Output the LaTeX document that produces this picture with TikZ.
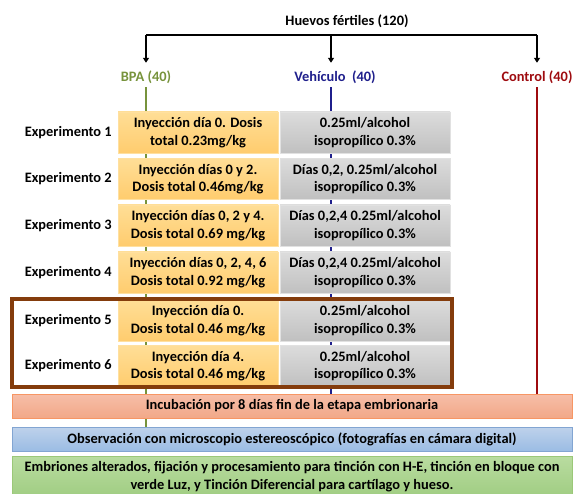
\documentclass[tikz,border=0pt]{standalone}
\usepackage{fontspec}
\setmainfont{Carlito}
\usetikzlibrary{arrows.meta}
\definecolor{bpagreen}{HTML}{77933C}
\definecolor{vehnavy}{HTML}{1F1F8C}
\definecolor{ctlred}{HTML}{9E0B0F}
\definecolor{brownframe}{HTML}{843C0C}
\begin{document}
\begin{tikzpicture}[x=1pt,y=-1pt,
  every node/.style={font=\fontsize{14.4}{17.6}\selectfont\bfseries, align=center, inner sep=0pt},
  lab/.style={minimum height=18pt, text height=10pt, text depth=3pt},
  expl/.style={anchor=east},
  orangebox/.style={draw={rgb,255:red,255;green,224;blue,160}, line width=0.8pt,
     top color={rgb,255:red,255;green,222;blue,150}, bottom color={rgb,255:red,255;green,204;blue,110},
     minimum width=160pt, minimum height=41pt},
  graybox/.style={draw={rgb,255:red,225;green,225;blue,225}, line width=0.8pt,
     top color={rgb,255:red,220;green,220;blue,220}, bottom color={rgb,255:red,192;green,192;blue,192},
     minimum width=170pt, minimum height=41pt},
  barsalmon/.style={draw={rgb,255:red,247;green,150;blue,100}, line width=0.8pt,
     top color={rgb,255:red,246;green,190;blue,168}, bottom color={rgb,255:red,242;green,168;blue,136},
     minimum width=560pt, minimum height=24pt},
  barblue/.style={draw={rgb,255:red,130;green,165;blue,210}, line width=0.8pt,
     top color={rgb,255:red,190;green,210;blue,235}, bottom color={rgb,255:red,155;green,188;blue,228},
     minimum width=560pt, minimum height=24pt},
  bargreen/.style={draw={rgb,255:red,155;green,200;blue,120}, line width=0.8pt,
     top color={rgb,255:red,185;green,220;blue,160}, bottom color={rgb,255:red,160;green,205;blue,130},
     minimum width=560pt, minimum height=41pt},
  treeline/.style={line width=1.6pt, black},
  treearrow/.style={line width=1.6pt, black, -{Triangle[length=5pt,width=6pt]}, shorten >=6pt},
  groupline/.style={line width=1.8pt}
]
\useasboundingbox (0,0) rectangle (573,494);

% header
\node (title) at (347,21) {Huevos fértiles (120)};
\node[lab, text=bpagreen] (bpa) at (146,78) {BPA (40)};
\node[lab, text=vehnavy] (veh) at (335,78) {Vehículo\ \ (40)};
\node[lab, text=ctlred] (ctl) at (537,78) {Control (40)};

\coordinate (hl) at (146,35);
\coordinate (hm) at (331,35);
\coordinate (hr) at (537,35);
\draw[treeline] (hl) -- (hr);
\draw[treearrow] (hl) -- (hl |- bpa.north);
\draw[treearrow] (hm) -- (hm |- veh.north);
\draw[treearrow] (hr) -- (ctl.north);

% bars (named first for line endpoints)
\coordinate (obsTop) at (292,427);
\coordinate (incTop) at (292,394);

% vertical group lines (behind boxes)
\draw[groupline, bpagreen] (bpa.south) -- (bpa.south |- obsTop);
\draw[groupline, vehnavy] (hm |- veh.south) -- (hm |- incTop);
\draw[groupline, ctlred] (ctl.south) -- (ctl.south |- incTop);

% rows
\foreach \n/\y/\ot/\gt in {
  1/132.5/{Inyección día 0. Dosis\\total 0.23mg/kg}/{0.25ml/alcohol\\isopropílico 0.3\%},
  2/179/{Inyección días 0 y 2.\\Dosis total 0.46mg/kg}/{Días 0,2, 0.25ml/alcohol\\isopropílico 0.3\%},
  3/225.5/{Inyección días 0, 2 y 4.\\Dosis total 0.69 mg/kg}/{Días 0,2,4 0.25ml/alcohol\\isopropílico 0.3\%},
  4/272.5/{Inyección días 0, 2, 4, 6\\Dosis total 0.92 mg/kg}/{Días 0,2,4 0.25ml/alcohol\\isopropílico 0.3\%},
  5/320.5/{Inyección día 0.\\Dosis total 0.46 mg/kg}/{0.25ml/alcohol\\isopropílico 0.3\%},
  6/366/{Inyección día 4.\\Dosis total 0.46 mg/kg}/{0.25ml/alcohol\\isopropílico 0.3\%}}
{
  \node[expl] (exp\n) at (112,\y) {Experimento \n};
  \node[orangebox] (ob\n) at (198,\y) {\ot};
  \node[graybox] (gb\n) at (365,\y) {\gt};
}

% highlight frame
\draw[brownframe, line width=4pt] (12,299) rectangle (452,387);

% bottom bars
\node[barsalmon] (inc) at (292,406) {Incubación por 8 días fin de la etapa embrionaria};
\node[barblue] (obs) at (292,439) {Observación con microscopio estereoscópico (fotografías en cámara digital)};
\node[bargreen] (emb) at (292,476.5) {Embriones alterados, fijación y procesamiento para tinción con H-E, tinción en bloque con\\verde Luz, y Tinción Diferencial para cartílago y hueso.};
\end{tikzpicture}
\end{document}
